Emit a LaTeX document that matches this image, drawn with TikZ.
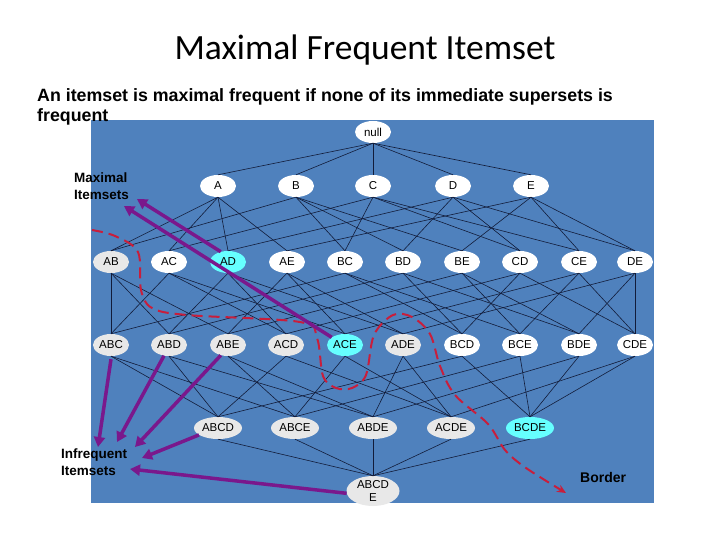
\documentclass[tikz,border=0pt]{standalone}
\usepackage{fontspec}
\setmainfont{Liberation Sans}
\newfontfamily\titlefont{Carlito}
\usetikzlibrary{arrows.meta,shapes.geometric}
\definecolor{bgblue}{RGB}{79,129,189}
\definecolor{edgec}{RGB}{18,28,58}
\definecolor{grayfill}{RGB}{232,232,232}
\definecolor{cyanfill}{RGB}{102,255,255}
\definecolor{purp}{RGB}{122,24,140}
\definecolor{bordred}{RGB}{200,30,60}
\tikzset{
  item/.style={ellipse, fill=white, inner sep=0pt, minimum width=36pt, minimum height=22pt, font=\fontsize{11.5}{12}\selectfont},
  wideitem/.style={minimum width=48pt},
  plain/.style={},
  inf/.style={fill=grayfill},
  maxi/.style={fill=cyanfill},
  lat/.style={draw=edgec, line width=0.6pt},
  pointer/.style={draw=purp, line width=3.5pt, -{Triangle[length=10pt,width=11pt]}},
  borderline/.style={draw=bordred, line width=2pt, dash pattern=on 11pt off 6pt, -{Stealth[length=9pt,width=8pt]}},
  lbl/.style={font=\bfseries\fontsize{13.5}{17}\selectfont, align=left, inner sep=0pt, text=black}
}
\begin{document}
\begin{tikzpicture}[x=1pt,y=-1pt]
\useasboundingbox (0,0) rectangle (720,540);
\fill[white] (0,0) rectangle (720,540);
\node[font=\titlefont\fontsize{35.5}{40}\selectfont] (title) at (365,50) {Maximal Frequent Itemset};
\fill[bgblue] (91,120) rectangle (654,503);
\node[anchor=north west, align=left, font=\bfseries\fontsize{17.8}{20.5}\selectfont, inner sep=0pt] (sub) at (37,88) {An itemset is maximal frequent if none of its immediate supersets is\\frequent};
% nodes
\node[item] (nnull) at (373,132) {null};
\foreach \n/\x/\y/\s in {A/218/186/plain, B/296/186/plain, C/373/186/plain, D/453/186/plain, E/531/186/plain,
  AB/111/262/inf, AC/169/262/plain, AD/228/262/maxi, AE/287/262/plain, BC/345/262/plain, BD/403/262/plain, BE/462/262/plain, CD/520/262/plain, CE/579/262/plain, DE/635/262/plain,
  ABC/111/345/inf, ABD/169/345/inf, ABE/228/345/inf, ACD/286/345/inf, ACE/345/345/maxi, ADE/403/345/inf, BCD/462/345/plain, BCE/520/345/plain, BDE/579/345/plain, CDE/635/345/plain}
  \node[item,\s] (n\n) at (\x,\y) {\n};
\foreach \n/\x/\s in {ABCD/218/inf, ABCE/295/inf, ABDE/373/inf, ACDE/451/inf, BCDE/530/maxi}
  \node[item,wideitem,\s] (n\n) at (\x,428) {\n};
\node[item,inf,minimum width=53pt,minimum height=30pt,align=center,font=\fontsize{11.5}{12.5}\selectfont] (nABCDE) at (373,491) {ABCD\\E};
% lattice edges
\foreach \u/\l in {null/A,null/B,null/C,null/D,null/E,
  A/AB,A/AC,A/AD,A/AE, B/AB,B/BC,B/BD,B/BE, C/AC,C/BC,C/CD,C/CE, D/AD,D/BD,D/CD,D/DE, E/AE,E/BE,E/CE,E/DE,
  AB/ABC,AC/ABC,BC/ABC, AB/ABD,AD/ABD,BD/ABD, AB/ABE,AE/ABE,BE/ABE, AC/ACD,AD/ACD,CD/ACD, AC/ACE,AE/ACE,CE/ACE,
  AD/ADE,AE/ADE,DE/ADE, BC/BCD,BD/BCD,CD/BCD, BC/BCE,BE/BCE,CE/BCE, BD/BDE,BE/BDE,DE/BDE, CD/CDE,CE/CDE,DE/CDE,
  ABC/ABCD,ABD/ABCD,ACD/ABCD,BCD/ABCD, ABC/ABCE,ABE/ABCE,ACE/ABCE,BCE/ABCE, ABD/ABDE,ABE/ABDE,ADE/ABDE,BDE/ABDE,
  ACD/ACDE,ACE/ACDE,ADE/ACDE,CDE/ACDE, BCD/BCDE,BCE/BCDE,BDE/BCDE,CDE/BCDE,
  ABCD/ABCDE,ABCE/ABCDE,ABDE/ABCDE,ACDE/ABCDE,BCDE/ABCDE}
  \draw[lat] (n\u.south) -- (n\l.north);
% border
\draw[borderline] plot[smooth, tension=0.55] coordinates {(92,230) (115,236) (138,252) (141,290) (152,308) (187,315) (300,322) (317,338) (323,376) (336,388) (352,388) (366,375) (374,335) (393,315) (412,317) (430,334) (440,366) (455,395) (488,424) (505,450) (526,468) (566,493)};
% labels
\node[lbl, anchor=west] (lmax) at (74,186) {Maximal\\Itemsets};
\node[lbl, anchor=west] (linf) at (61,462) {Infrequent\\Itemsets};
\node[lbl, anchor=west, font=\bfseries\fontsize{14}{16}\selectfont] (lborder) at (580,477) {Border};
\coordinate (m1) at (137,199);
\coordinate (m2) at (124,206);
\coordinate (i1) at (98,447);
\coordinate (i2) at (117,442);
\coordinate (i3) at (135,447);
\coordinate (i4) at (142,458);
\coordinate (i5) at (130,469);
\draw[pointer] (nAD.125) -- (m1);
\draw[pointer] (nACE.150) -- (m2);
\draw[pointer] ([yshift=-3pt]nABC.south) -- (i1);
\draw[pointer] (nABD.245) -- (i2);
\draw[pointer] (nABE.235) -- (i3);
\draw[pointer] (nABCD.200) -- (i4);
\draw[pointer] (nABCDE.185) -- (i5);
\end{tikzpicture}
\end{document}
